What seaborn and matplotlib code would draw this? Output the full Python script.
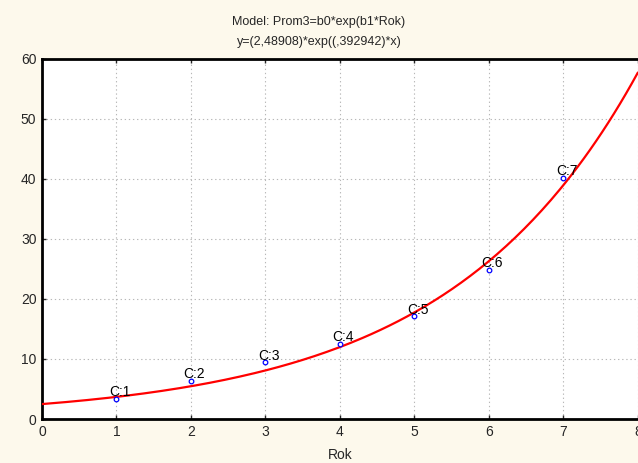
import numpy as np
import pandas as pd
import matplotlib
matplotlib.use("Agg")
import matplotlib.pyplot as plt
import seaborn as sns

# data
rok = [1, 2, 3, 4, 5, 6, 7]
prom3 = [3.4, 6.35, 9.45, 12.5, 17.1, 24.8, 40.1]
case_labels = ["C:1", "C:2", "C:3", "C:4", "C:5", "C:6", "C:7"]

# fitted model coefficients (from the title)
b0 = 2.48908
b1 = 0.392942

sns.set_style("white")
plt.rcParams["font.family"] = ["Liberation Sans", "DejaVu Sans"]

fig = plt.figure(figsize=(6.38, 4.63), dpi=100, facecolor="#fdf9ec")
ax = fig.add_axes([0.0658, 0.095, 0.934, 0.778])
ax.set_facecolor("white")

pts = pd.DataFrame({"Rok": rok, "Prom3": prom3})
x_fit = np.linspace(0, 8, 200)
fit = pd.DataFrame({"Rok": x_fit, "Prom3": b0 * np.exp(b1 * x_fit)})

sns.lineplot(data=fit, x="Rok", y="Prom3", ax=ax, color="red", lw=1.6, zorder=3)
sns.scatterplot(data=pts, x="Rok", y="Prom3", ax=ax, s=11, marker="o",
                facecolor="white", edgecolor="blue", linewidth=0.9, zorder=4)

for xi, yi, lab in zip(rok, prom3, case_labels):
    ax.annotate(lab, (xi, yi), xytext=(2.5, 2), textcoords="offset points",
                ha="center", va="baseline", fontsize=10, color="black", zorder=5)

ax.set_xlim(0, 8)
ax.set_ylim(0, 60)
ax.set_xticks(range(0, 9))
ax.set_yticks(range(0, 61, 10))
ax.grid(True, linestyle=(0, (1.2, 2.5)), color="#b8b8b8", linewidth=0.8)
ax.tick_params(direction="in", length=3, width=1, labelsize=10, pad=4,
               bottom=True, left=True, top=True, right=False)
for side in ["left", "bottom", "top"]:
    ax.spines[side].set_linewidth(2)
    ax.spines[side].set_color("black")
ax.spines["right"].set_visible(False)

ax.set_xlabel("Rok", fontsize=10, labelpad=7)
ax.set_ylabel("")

fig.text(0.5, 0.953, "Model: Prom3=b0*exp(b1*Rok)", ha="center", va="center", fontsize=9)
fig.text(0.5, 0.910, "y=(2,48908)*exp((,392942)*x)", ha="center", va="center", fontsize=9)

fig.savefig("out.png", dpi=100, facecolor=fig.get_facecolor())
